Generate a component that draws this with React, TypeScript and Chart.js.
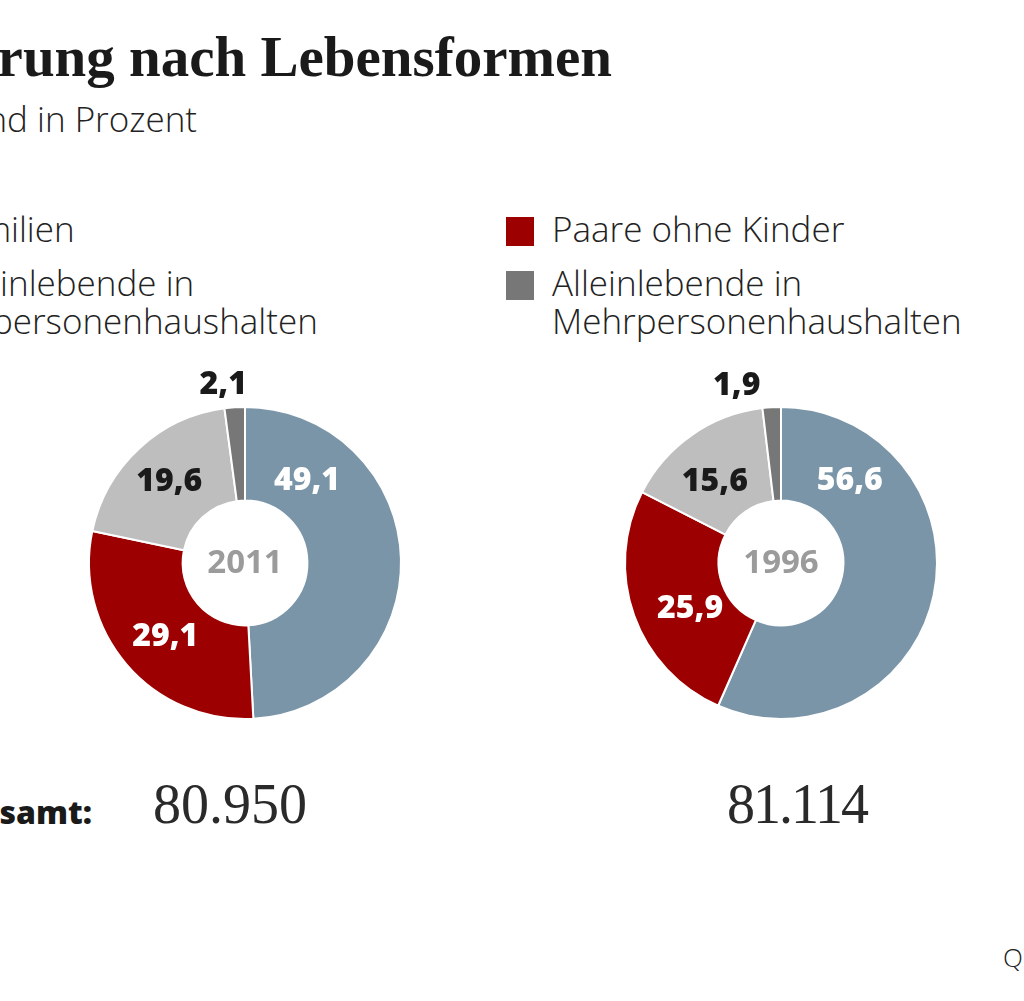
import React, { useEffect, useRef } from "react";
import { Chart, registerables } from "chart.js";

Chart.register(...registerables);

const categories = [
  "Familien",
  "Paare ohne Kinder",
  "Alleinlebende in Einpersonenhaushalten",
  "Alleinlebende in Mehrpersonenhaushalten",
];
const colors = ["#7a95a8", "#9d0000", "#bebebe", "#777777"];
const labelColors = ["#ffffff", "#ffffff", "#1a1a1a", "#1a1a1a"];

const years = ["2011", "1996"];
const values2011 = [49.1, 29.1, 19.6, 2.1];
const values1996 = [56.6, 25.9, 15.6, 1.9];
const totals = ["80.950", "81.114"];

// label placement (angle in degrees clockwise from top, radius in px)
const labelLayout2011 = [
  [37, 103],
  [227, 109],
  [317, 111],
  [353, 179],
];
const labelLayout1996 = [
  [40, 107],
  [243, 102],
  [321, 105],
  [346, 183],
];

const fmt = (v: number) => v.toFixed(1).replace(".", ",");

function Donut({ values, year, layout, left }: { values: number[]; year: string; layout: number[][]; left: number }) {
  const ref = useRef<HTMLCanvasElement>(null);
  useEffect(() => {
    if (!ref.current) return;
    const labelPlugin = {
      id: "lbl",
      afterDatasetsDraw(chart: any) {
        const ctx = chart.ctx;
        const arc = chart.getDatasetMeta(0).data[0];
        const cx = arc.x;
        const cy = arc.y;
        ctx.save();
        ctx.textAlign = "center";
        ctx.textBaseline = "middle";
        ctx.font = "800 32px 'Open Sans'";
        values.forEach((v, i) => {
          const a = (layout[i][0] * Math.PI) / 180;
          const r = layout[i][1];
          ctx.fillStyle = labelColors[i];
          ctx.fillText(fmt(v), cx + r * Math.sin(a), cy - r * Math.cos(a));
        });
        ctx.font = "700 33px 'Open Sans'";
        ctx.fillStyle = "#9b9b9b";
        ctx.fillText(year, cx, cy + 1);
        ctx.restore();
      },
    };
    const chart = new Chart(ref.current, {
      type: "doughnut",
      data: {
        labels: categories,
        datasets: [
          {
            data: values,
            backgroundColor: colors,
            borderColor: "#ffffff",
            borderWidth: 2,
          },
        ],
      },
      options: {
        animation: false,
        responsive: false,
        cutout: "40%",
        layout: { padding: 43 },
        plugins: { legend: { display: false }, tooltip: { enabled: false } },
      },
      plugins: [labelPlugin],
    });
    return () => chart.destroy();
  }, []);
  return (
    <canvas
      ref={ref}
      width={400}
      height={400}
      style={{ position: "absolute", left, top: 363, width: 400, height: 400 }}
    />
  );
}

const sans = "'Open Sans', sans-serif";
const serif = "'Liberation Serif', serif";

function LegendItem({ x, y, color, lines }: { x: number; y: number; color: string; lines: string[] }) {
  return (
    <div style={{ position: "absolute", left: x, top: y, whiteSpace: "nowrap" }}>
      <div style={{ position: "absolute", left: -46, top: 7, width: 28, height: 29, background: color }} />
      {lines.map((l, i) => (
        <div key={i} style={{ fontFamily: sans, fontWeight: 300, fontSize: 35, lineHeight: "38px", color: "#222" }}>
          {l}
        </div>
      ))}
    </div>
  );
}

export default function App() {
  return (
    <div
      style={{
        position: "fixed",
        left: 0,
        top: 0,
        width: 1024,
        height: 1001,
        overflow: "hidden",
        background: "#fff",
      }}
    >
      <div
        style={{
          position: "absolute",
          right: 1024 - 612,
          top: 24,
          fontFamily: serif,
          fontWeight: 700,
          fontSize: 57,
          whiteSpace: "nowrap",
          color: "#1a1a1a",
        }}
      >
        Bevölkerung nach Lebensformen
      </div>
      <div
        style={{
          position: "absolute",
          right: 1024 - 197,
          top: 95,
          fontFamily: sans,
          fontWeight: 300,
          fontSize: 35,
          whiteSpace: "nowrap",
          color: "#222",
        }}
      >
        Bevölkerungsstand in Prozent
      </div>

      <LegendItem x={-56} y={210} color={colors[0]} lines={[categories[0]]} />
      <LegendItem x={-56} y={264} color={colors[2]} lines={["Alleinlebende in", "Einpersonenhaushalten"]} />
      <LegendItem x={552} y={210} color={colors[1]} lines={[categories[1]]} />
      <LegendItem x={552} y={264} color={colors[3]} lines={["Alleinlebende in", "Mehrpersonenhaushalten"]} />

      <Donut values={values2011} year={years[0]} layout={labelLayout2011} left={45} />
      <Donut values={values1996} year={years[1]} layout={labelLayout1996} left={581} />

      <div
        style={{
          position: "absolute",
          right: 1024 - 92,
          top: 790,
          fontFamily: sans,
          fontWeight: 800,
          fontSize: 32,
          whiteSpace: "nowrap",
          color: "#1a1a1a",
        }}
      >
        Insgesamt:
      </div>
      <div
        style={{
          position: "absolute",
          left: 153,
          top: 772,
          fontFamily: serif,
          fontWeight: 400,
          fontSize: 56,
          whiteSpace: "nowrap",
          color: "#2a2a2a",
        }}
      >
        {totals[0]}
      </div>
      <div
        style={{
          position: "absolute",
          left: 727,
          top: 772,
          fontFamily: serif,
          fontWeight: 400,
          fontSize: 56,
          letterSpacing: -2,
          whiteSpace: "nowrap",
          color: "#2a2a2a",
        }}
      >
        {totals[1]}
      </div>
      <div
        style={{
          position: "absolute",
          left: 1003,
          top: 939,
          fontFamily: sans,
          fontWeight: 300,
          fontSize: 26,
          whiteSpace: "nowrap",
          color: "#222",
        }}
      >
        Quelle: Statistisches Bundesamt
      </div>
    </div>
  );
}
